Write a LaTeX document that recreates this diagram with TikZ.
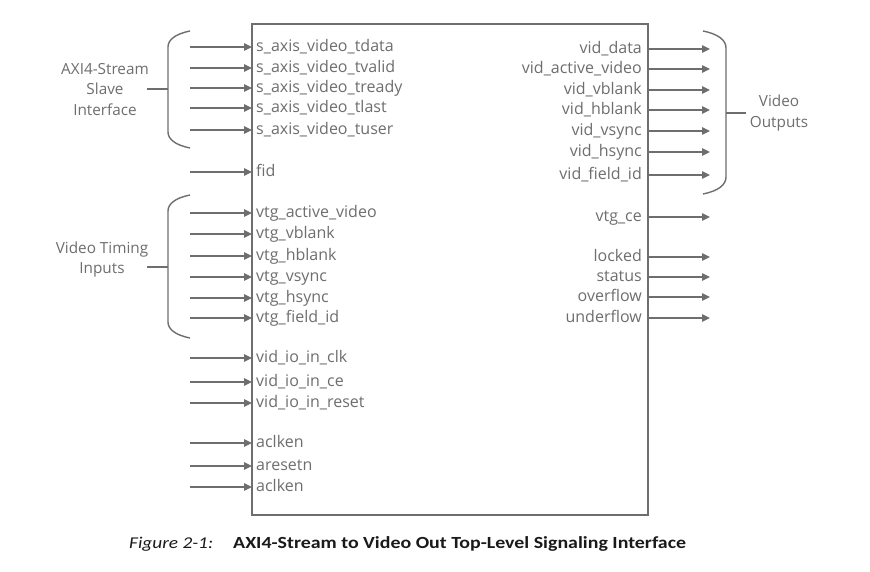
\documentclass[tikz,border=0pt]{standalone}
\usepackage{fontspec}
\setmainfont{Open Sans}
\newfontfamily\capfont[FakeStretch=1.17]{Carlito}
\usetikzlibrary{arrows.meta}
\definecolor{ink}{HTML}{6E6E6E}
\definecolor{capink}{HTML}{1A1A1A}
\begin{document}
\begin{tikzpicture}[x=1pt,y=-1pt,
  sig/.style={font=\fontsize{16}{19}\selectfont, text=ink, text height=12pt, text depth=3pt, inner ysep=0pt},
  inl/.style={sig, anchor=west, inner xsep=4pt},
  outl/.style={sig, anchor=east, inner xsep=6pt},
  wire/.style={draw=ink, line width=1.2pt, -{Triangle[length=8pt,width=7.5pt]}},
  bracepath/.style={draw=ink, line width=1.4pt},
  grp/.style={font=\fontsize{15.3}{20.5}\selectfont, text=ink, align=center, inner sep=0pt},
  capt/.style={anchor=base west, inner sep=0pt, text=capink}]
\useasboundingbox (0,0) rectangle (870,572);
\fill[white] (0,0) rectangle (870,572);
% block
\node[draw=ink, line width=1.5pt, minimum width=396pt, minimum height=491pt, inner sep=0pt] (blk) at (450,269.5) {};
% inputs
\foreach \i/\y/\t in {1/47/s\_axis\_video\_tdata, 2/68/s\_axis\_video\_tvalid, 3/88/s\_axis\_video\_tready,
  4/108/s\_axis\_video\_tlast, 5/130/s\_axis\_video\_tuser, 6/172/fid,
  7/213/vtg\_active\_video, 8/234/vtg\_vblank, 9/256/vtg\_hblank, 10/277/vtg\_vsync,
  11/298/vtg\_hsync, 12/318/vtg\_field\_id, 13/358/vid\_io\_in\_clk, 14/382/vid\_io\_in\_ce,
  15/403/vid\_io\_in\_reset, 16/443/aclken, 17/466/aresetn, 18/487/aclken}{
  \node[inl] (in\i) at (252,\y) {\t};
  \coordinate (src\i) at (190,\y);
  \draw[wire] (src\i) -- (in\i.west);
}
% outputs
\foreach \i/\y/\t in {1/49/vid\_data, 2/69/vid\_active\_video, 3/90/vid\_vblank, 4/110/vid\_hblank,
  5/131/vid\_vsync, 6/152/vid\_hsync, 7/175/vid\_field\_id, 8/217/vtg\_ce,
  9/257/locked, 10/277/status, 11/297/overflow, 12/318/underflow}{
  \node[outl] (out\i) at (648,\y) {\t};
  \coordinate (dst\i) at (710,\y);
  \draw[wire] (out\i.east) -- (dst\i);
}
% braces
\draw[bracepath] (190,31) .. controls (175,34) and (168,40) .. (168,47) -- (168,132) .. controls (168,139) and (175,145) .. (190,148);
\draw[bracepath] (147,89) -- (168,89);
\node[grp] (g1) at (105,89.5) {AXI4-Stream\\Slave\\Interface};
\draw[bracepath] (190,195) .. controls (175,198) and (168,204) .. (168,211) -- (168,322) .. controls (168,329) and (175,335) .. (190,338);
\draw[bracepath] (147,267) -- (168,267);
\node[grp] (g2) at (102,259.5) {Video Timing\\Inputs};
\draw[bracepath] (703,31) .. controls (718,34) and (726,40) .. (726,48) -- (726,177) .. controls (726,185) and (718,191) .. (703,194);
\draw[bracepath] (726,113) -- (746,113);
\node[grp] (g3) at (779,113) {Video\\Outputs};
% caption
\node[capt, font=\capfont\itshape\fontsize{16.5}{19}\selectfont] (capA) at (129,548) {Figure 2-1:};
\node[capt, font=\capfont\bfseries\fontsize{17}{19}\selectfont] (capB) at (233,548) {AXI4-Stream to Video Out Top-Level Signaling Interface};
\end{tikzpicture}
\end{document}
